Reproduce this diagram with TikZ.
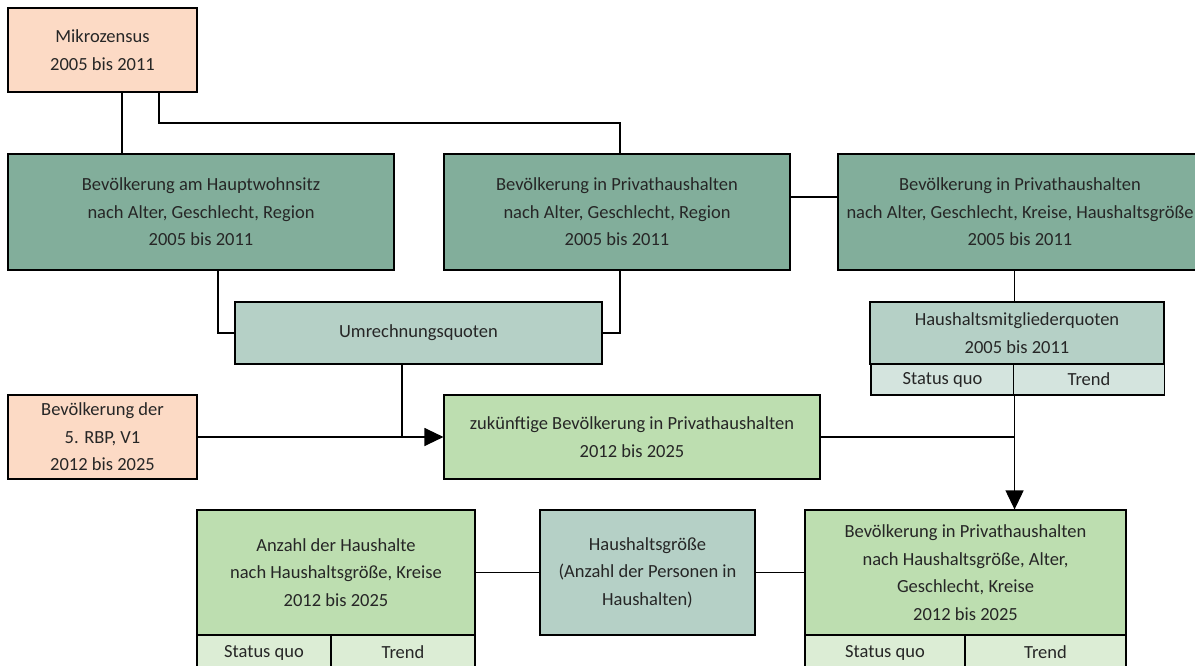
\documentclass[tikz,border=0pt]{standalone}
\usepackage{fontspec}
\setmainfont{Carlito}
\usetikzlibrary{arrows.meta}
\definecolor{peach}{HTML}{FCDAC5}
\definecolor{dgreen}{HTML}{82AE9B}
\definecolor{lteal}{HTML}{B5D0C6}
\definecolor{lteal2}{HTML}{D4E4DE}
\definecolor{lgreen}{HTML}{BDDEB0}
\definecolor{lgreen2}{HTML}{DCEDD5}
\begin{document}
\begin{tikzpicture}[x=1pt,y=-1pt,
  box/.style={draw=black, line width=1.1pt, inner sep=0pt, align=center,
    font=\fontsize{18.5}{27.5}\selectfont, text=black!85},
  conn/.style={draw=black, line width=1.1pt},
  arr/.style={conn, -{Triangle[length=19pt,width=18pt]}}]
\clip (0,0) rectangle (1195,666);
\fill[white] (0,0) rectangle (1195,666);
% boxes
\node[box, fill=peach, minimum width=189pt, minimum height=84pt] (mik) at (102.5,50) {Mikrozensus\\2005 bis 2011};
\node[box, fill=dgreen, minimum width=386pt, minimum height=116pt] (b1) at (201,212) {Bevölkerung am Hauptwohnsitz\\nach Alter, Geschlecht, Region\\2005 bis 2011};
\node[box, fill=dgreen, minimum width=346pt, minimum height=116pt] (b2) at (617,212) {Bevölkerung in Privathaushalten\\nach Alter, Geschlecht, Region\\2005 bis 2011};
\node[box, fill=dgreen, minimum width=364pt, minimum height=116pt] (b3) at (1020,212) {Bevölkerung in Privathaushalten\\nach Alter, Geschlecht, Kreise, Haushaltsgröße\\2005 bis 2011};
\node[box, fill=lteal, minimum width=367pt, minimum height=62pt] (umr) at (418.5,333) {Umrechnungsquoten};
\node[box, fill=lteal, minimum width=294pt, minimum height=62pt] (hmq) at (1017,333) {Haushaltsmitgliederquoten\\2005 bis 2011};
\node[box, fill=lteal2, minimum width=143pt, minimum height=31pt] (hmqS) at (942.5,379.5) {Status quo};
\node[box, fill=lteal2, minimum width=151pt, minimum height=31pt] (hmqT) at (1089,379.5) {Trend};
\node[box, fill=peach, minimum width=189pt, minimum height=84pt] (rbp) at (102.5,437) {Bevölkerung der\\5. RBP, V1\\2012 bis 2025};
\node[box, fill=lgreen, minimum width=376pt, minimum height=84pt] (zuk) at (632,437) {zukünftige Bevölkerung in Privathaushalten\\2012 bis 2025};
\node[box, fill=lgreen, minimum width=278pt, minimum height=125pt] (anz) at (336,572.5) {Anzahl der Haushalte\\nach Haushaltsgröße, Kreise\\2012 bis 2025};
\node[box, fill=lgreen2, minimum width=134pt, minimum height=35pt] (anzS) at (264,652.5) {Status quo};
\node[box, fill=lgreen2, minimum width=144pt, minimum height=35pt] (anzT) at (403,652.5) {Trend};
\node[box, fill=lteal, minimum width=215pt, minimum height=125pt] (hg) at (647.5,572.5) {Haushaltsgröße\\(Anzahl der Personen in\\Haushalten)};
\node[box, fill=lgreen, minimum width=321pt, minimum height=125pt] (bb) at (965.5,572.5) {Bevölkerung in Privathaushalten\\nach Haushaltsgröße, Alter,\\Geschlecht, Kreise\\2012 bis 2025};
\node[box, fill=lgreen2, minimum width=160pt, minimum height=35pt] (bbS) at (885,652.5) {Status quo};
\node[box, fill=lgreen2, minimum width=161pt, minimum height=35pt] (bbT) at (1045.5,652.5) {Trend};
% helper coordinates
\coordinate (c1) at (122,0);
\coordinate (c2) at (159,123);
\coordinate (c2b) at (620,123);
\coordinate (c3) at (218,0);
\coordinate (c5) at (0,197);
\coordinate (c7) at (402,437);
% connectors
\draw[conn] (mik.south -| c1) -- (b1.north -| c1);
\draw[conn] (mik.south -| c2) -- (c2) -- (c2b) -- (b2.north -| c2b);
\draw[conn] (b1.south -| c3) |- (umr.west);
\draw[conn] (b2.south -| c2b) |- (umr.east);
\draw[conn] (b2.east |- c5) -- (b3.west |- c5);
\draw[conn] (b3.south -| hmqS.south east) -- (hmq.north -| hmqS.south east);
\draw[conn] (umr.south -| c7) -- (c7);
\draw[arr] (rbp.east) -- (zuk.west);
\draw[conn] (zuk.east) -- (zuk.east -| hmqS.south east);
\draw[arr] (hmqS.south east) -- (bb.north -| hmqS.south east);
\draw[conn] (anz.east) -- (hg.west);
\draw[conn] (hg.east) -- (bb.west);
\end{tikzpicture}
\end{document}
